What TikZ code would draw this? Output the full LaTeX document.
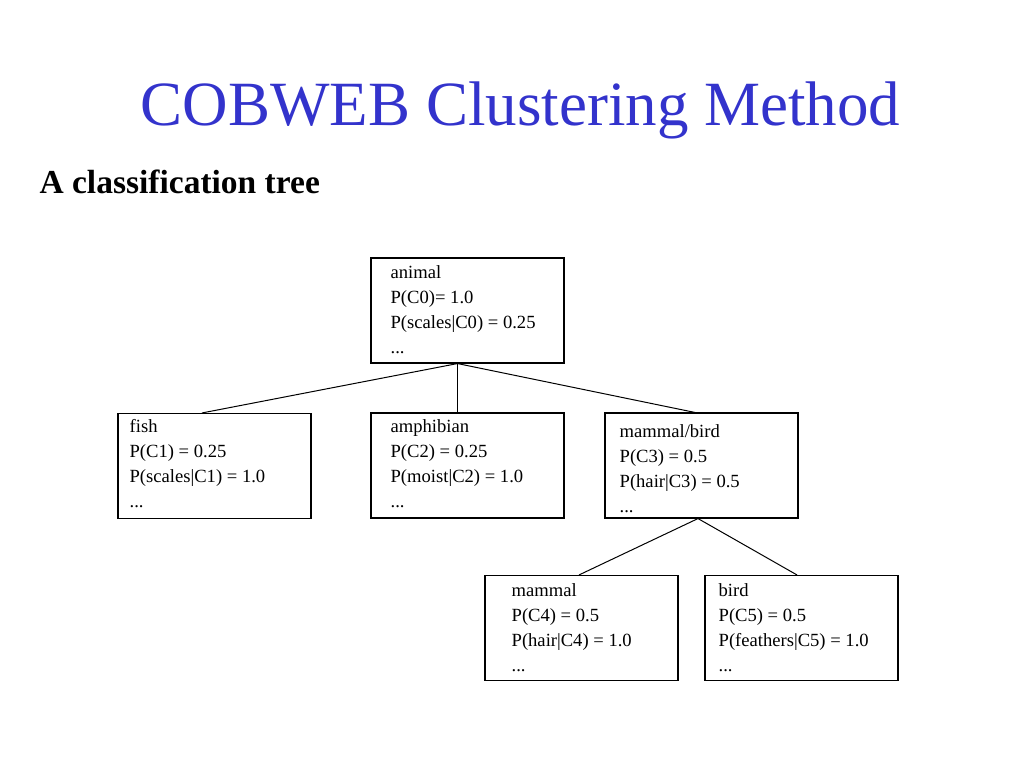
\documentclass[tikz,border=0pt]{standalone}
\usepackage{fontspec}
\setmainfont{Liberation Serif}
\usepackage{xcolor}
\usetikzlibrary{positioning,calc}

\definecolor{titleblue}{RGB}{51,51,204}

\begin{document}
\begin{tikzpicture}[
    x=1pt, y=-1pt,
    box/.style={rectangle, draw, line width=1.1pt, minimum width=193pt, minimum height=105pt, inner sep=0pt},
    info/.style={anchor=north west, align=left, inner sep=0pt, font=\fontsize{18.6}{25}\selectfont},
    line/.style={draw, line width=1pt}
]
\useasboundingbox (0,0) rectangle (1024,768);

% Title
\node [anchor=base, text=titleblue, font=\fontsize{63}{70}\selectfont] (title) at (520.5,125) {COBWEB Clustering Method};
\node [anchor=base west, font=\bfseries\fontsize{33.5}{40}\selectfont] (subtitle) at (36,193) {A classification tree};

% Root
\node [box] (animal) at (467.5,310.5) {};
\node [info] (animaltxt) at ($(animal.north west)+(20,8)$) {animal\\P(C0)= 1.0\\P(scales|C0) = 0.25\\...};

% Level 1
\node [box] (fish) at (214.5,466) {};
\node [info] (fishtxt) at ($(fish.north west)+(12,6)$) {fish\\P(C1) = 0.25\\P(scales|C1) = 1.0\\...};

\node [box] (amphibian) at (467.5,465.5) {};
\node [info] (amphibiantxt) at ($(amphibian.north west)+(20,7)$) {amphibian\\P(C2) = 0.25\\P(moist|C2) = 1.0\\...};

\node [box] (mambird) at (701.5,465.5) {};
\node [info] (mambirdtxt) at ($(mambird.north west)+(15,12)$) {mammal/bird\\P(C3) = 0.5\\P(hair|C3) = 0.5\\...};

% Level 2
\node [box] (mammal) at (581.5,628) {};
\node [info] (mammaltxt) at ($(mammal.north west)+(27,8)$) {mammal\\P(C4) = 0.5\\P(hair|C4) = 1.0\\...};

\node [box] (bird) at (801.5,628) {};
\node [info] (birdtxt) at ($(bird.north west)+(14,8)$) {bird\\P(C5) = 0.5\\P(feathers|C5) = 1.0\\...};

% Connections
\path [line] ([xshift=-10pt]animal.south) -- ([xshift=-12.5pt]fish.north);
\path [line] ([xshift=-10pt]animal.south) -- ([xshift=-10pt]amphibian.north);
\path [line] ([xshift=-10pt]animal.south) -- ([xshift=-6.5pt]mambird.north);
\path [line] ([xshift=-3.5pt]mambird.south) -- ([xshift=-2.5pt]mammal.north);
\path [line] ([xshift=-3.5pt]mambird.south) -- ([xshift=-4.5pt]bird.north);

\end{tikzpicture}
\end{document}
